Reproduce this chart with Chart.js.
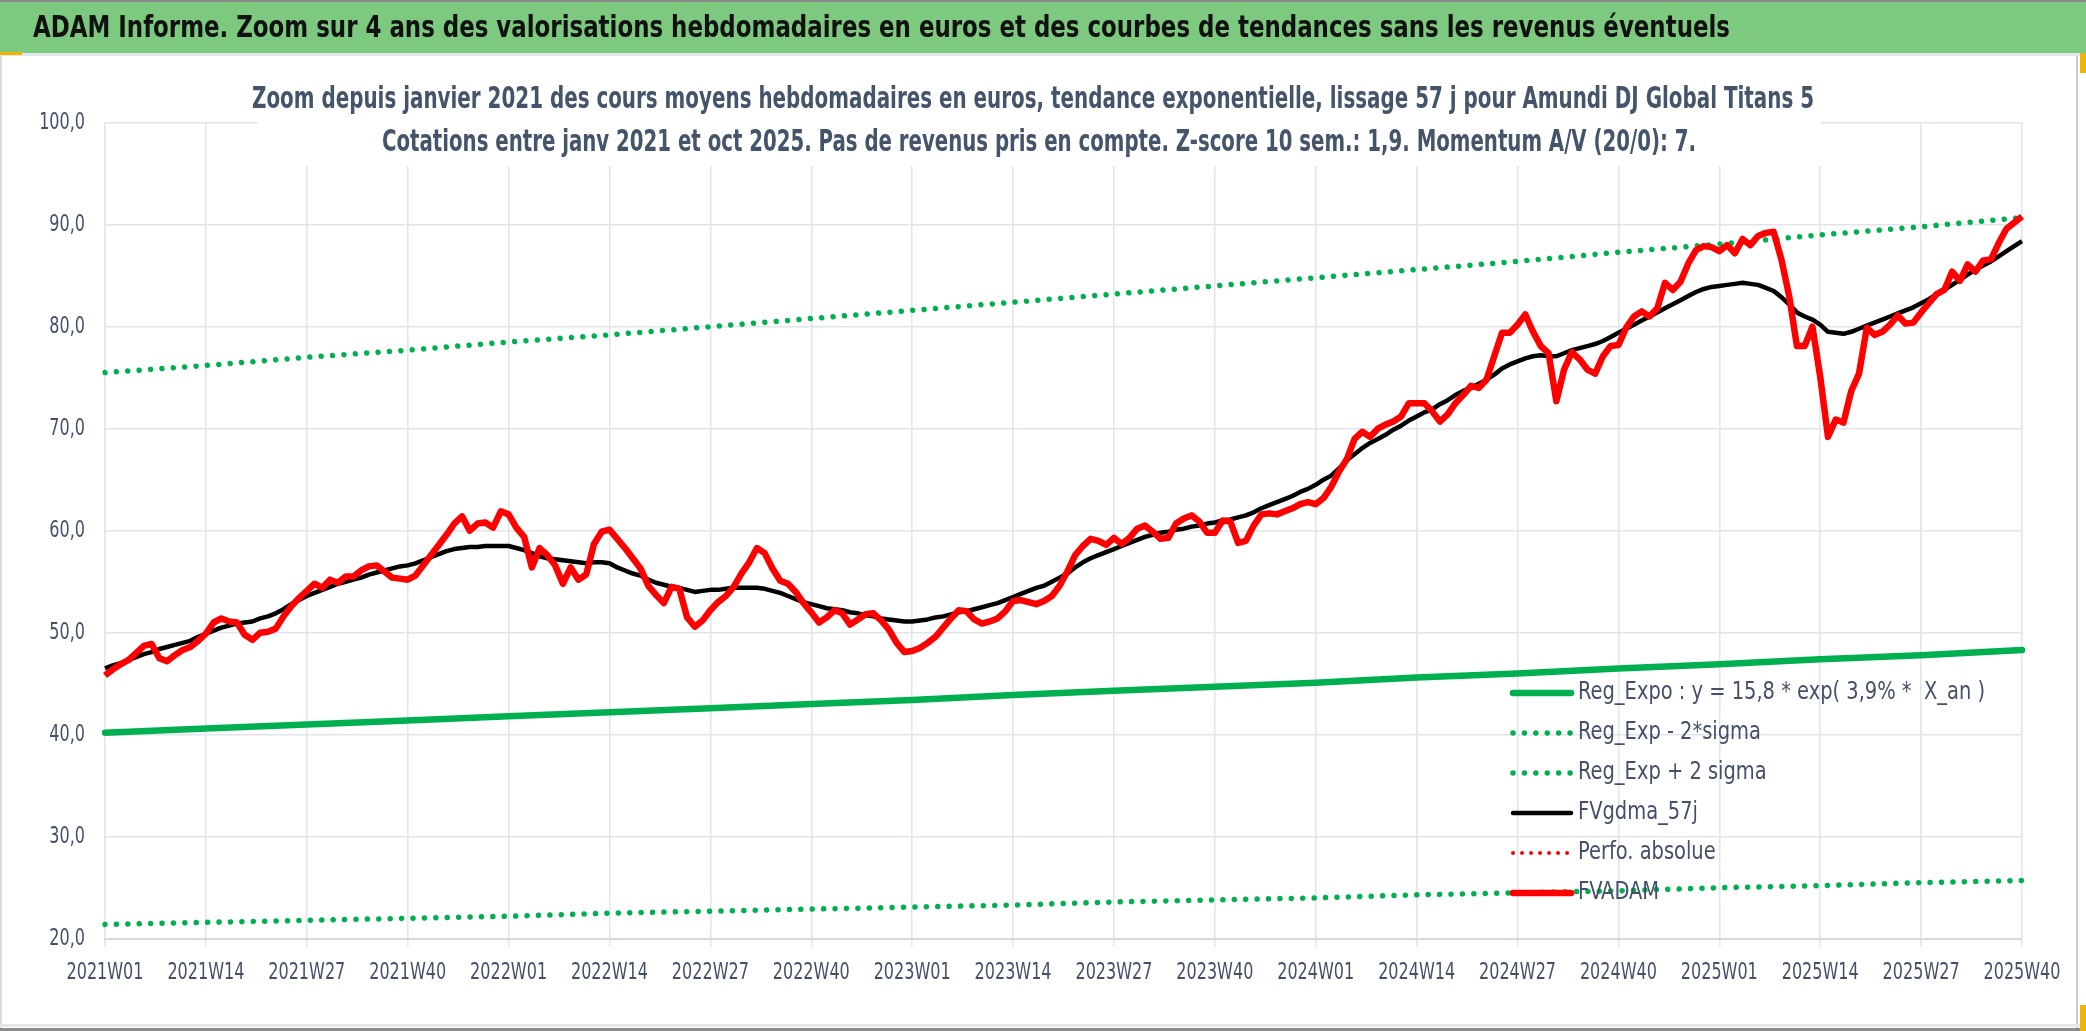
<!DOCTYPE html>
<html><head><meta charset="utf-8">
<script src="https://cdn.jsdelivr.net/npm/chart.js@4.4.1/dist/chart.umd.min.js"></script>
<style>html,body{margin:0;padding:0;background:#fff;overflow:hidden}canvas{display:block}</style>
</head><body>
<canvas id="c" width="2086" height="1031"></canvas>
<script>
const titleText = "ADAM Informe. Zoom sur 4 ans des valorisations hebdomadaires en euros et des courbes de tendances sans les revenus éventuels";
const subtitleLines = [
  "Zoom depuis janvier 2021 des cours moyens hebdomadaires en euros, tendance exponentielle, lissage 57 j pour Amundi DJ Global Titans 5",
  "Cotations entre janv 2021 et oct 2025. Pas de revenus pris en compte. Z-score 10 sem.: 1,9. Momentum A/V (20/0): 7."
];
const years = [2021, 2022, 2023, 2024, 2025];
const weeksPerYear = [52, 52, 52, 52, 40];
const tickLabels = ["2021W01","2021W14","2021W27","2021W40","2022W01","2022W14","2022W27","2022W40",
  "2023W01","2023W14","2023W27","2023W40","2024W01","2024W14","2024W27","2024W40",
  "2025W01","2025W14","2025W27","2025W40"];
const seriesNames = ["Reg_Expo : y = 15,8 * exp( 3,9% *  X_an )","Reg_Exp - 2*sigma","Reg_Exp + 2 sigma","FVgdma_57j","Perfo. absolue","FVADAM"];

// Weekly valuation (red)
const fvadam = [
 45.8,46.4,46.9,47.3,48.0,48.7,48.9,47.5,47.2,47.8,48.3,48.6,49.2,
 49.9,51.0,51.4,51.1,51.0,49.8,49.3,50.0,50.1,50.4,51.6,52.6,53.4,
 54.1,54.8,54.4,55.2,54.9,55.5,55.5,56.1,56.5,56.6,56.0,55.4,55.3,
 55.2,55.6,56.6,57.6,58.6,59.6,60.7,61.4,60.0,60.7,60.8,60.3,61.9,
 61.6,60.3,59.4,56.4,58.3,57.6,56.6,54.8,56.4,55.2,55.7,58.7,59.9,
 60.1,59.2,58.3,57.3,56.3,54.6,53.7,52.9,54.5,54.3,51.5,50.6,51.2,
 52.2,53.0,53.6,54.5,55.8,56.9,58.3,57.8,56.3,55.1,54.8,54.0,52.9,
 52.0,51.0,51.5,52.2,51.9,50.8,51.3,51.8,51.9,51.2,50.3,49.0,48.1,
 48.2,48.5,49.0,49.6,50.5,51.4,52.2,52.1,51.3,50.9,51.1,51.4,52.1,
 53.1,53.2,53.0,52.8,53.1,53.6,54.6,56.0,57.6,58.5,59.2,59.0,58.6,
 59.3,58.7,59.3,60.2,60.5,59.9,59.2,59.3,60.7,61.2,61.5,60.9,59.8,
 59.8,61.0,60.9,58.8,59.0,60.5,61.6,61.7,61.6,61.9,62.2,62.6,62.8,
 62.6,63.2,64.3,65.8,67.0,69.0,69.7,69.2,70.0,70.4,70.7,71.2,72.5,
 72.5,72.5,71.7,70.7,71.4,72.5,73.3,74.2,74.0,74.8,77.1,79.4,79.4,
 80.2,81.2,79.5,78.1,77.4,72.7,75.8,77.5,76.8,75.8,75.4,77.1,78.1,
 78.2,79.9,81.0,81.5,81.0,81.8,84.3,83.6,84.4,86.2,87.5,87.9,87.8,
 87.4,88.0,87.2,88.6,88.0,88.9,89.2,89.3,86.6,83.0,78.1,78.1,80.0,
 75.1,69.2,70.9,70.6,73.7,75.4,79.9,79.2,79.5,80.2,81.1,80.3,80.4,
 81.4,82.3,83.2,83.6,85.4,84.5,86.1,85.4,86.5,86.6,88.2,89.6,90.2,
 90.8
];
// 57-day smoothing (black)
const fvgdma = [
 46.5,46.8,47.0,47.3,47.6,47.9,48.1,48.4,48.6,48.8,49.0,49.2,49.6,
 49.9,50.2,50.5,50.7,50.9,51.0,51.1,51.4,51.6,51.9,52.3,52.8,53.2,
 53.6,53.9,54.2,54.5,54.8,55.0,55.2,55.4,55.7,55.9,56.1,56.3,56.5,
 56.6,56.8,57.1,57.4,57.7,58.0,58.2,58.3,58.4,58.4,58.5,58.5,58.5,
 58.5,58.3,58.1,57.8,57.5,57.3,57.2,57.1,57.0,56.9,56.8,56.9,56.9,
 56.8,56.4,56.1,55.8,55.6,55.2,54.9,54.7,54.5,54.4,54.2,54.0,54.1,
 54.2,54.2,54.3,54.4,54.4,54.4,54.4,54.3,54.1,53.9,53.6,53.3,53.0,
 52.8,52.6,52.4,52.3,52.2,52.0,51.9,51.7,51.6,51.4,51.3,51.2,51.1,
 51.1,51.2,51.3,51.5,51.6,51.8,52.0,52.1,52.3,52.5,52.7,52.9,53.2,
 53.5,53.8,54.1,54.4,54.6,55.0,55.4,55.8,56.4,56.9,57.3,57.6,57.9,
 58.2,58.5,58.8,59.1,59.4,59.6,59.8,59.9,60.1,60.2,60.4,60.5,60.7,
 60.8,61.0,61.1,61.3,61.5,61.8,62.2,62.5,62.8,63.1,63.4,63.8,64.1,
 64.5,65.0,65.4,66.1,66.9,67.5,68.1,68.6,69.0,69.4,69.9,70.3,70.8,
 71.2,71.6,71.9,72.4,72.8,73.3,73.7,74.0,74.4,74.8,75.3,75.9,76.3,
 76.6,76.9,77.1,77.2,77.1,77.1,77.4,77.7,77.9,78.1,78.3,78.6,79.0,
 79.4,79.8,80.2,80.6,81.0,81.4,81.8,82.2,82.6,83.0,83.4,83.7,83.9,
 84.0,84.1,84.2,84.3,84.2,84.1,83.8,83.5,82.9,82.2,81.4,81.0,80.7,
 80.2,79.5,79.4,79.3,79.5,79.8,80.1,80.4,80.7,81.0,81.3,81.6,81.9,
 82.3,82.7,83.2,83.6,84.1,84.6,85.1,85.6,86.0,86.4,86.9,87.4,87.9,
 88.4
];
// Trend curves read at each labelled week
const regExpo = [40.2,40.6,41.0,41.4,41.8,42.2,42.6,43.0,43.4,43.9,44.3,44.7,45.1,45.6,46.0,46.5,46.9,47.4,47.8,48.3];
const regLow  = [21.4,21.6,21.8,22.0,22.2,22.5,22.7,22.9,23.1,23.3,23.6,23.8,24.0,24.3,24.5,24.7,25.0,25.2,25.5,25.7];
const regHigh = [75.5,76.2,77.0,77.7,78.5,79.2,80.0,80.8,81.6,82.4,83.2,84.0,84.8,85.6,86.4,87.3,88.1,89.0,89.8,90.7];
const perfoAbs = [];

const weekLabels = [];
years.forEach((y, i) => { for (let w = 1; w <= weeksPerYear[i]; w++) weekLabels.push(y + 'W' + String(w).padStart(2, '0')); });
const atTicks = arr => arr.map((v, i) => ({ x: tickLabels[i], y: v }));

// choose the narrowest installed font among candidates
const mctx = document.createElement('canvas').getContext('2d');
function hasFont(name) {
  const s = '2021W01 abcdefghijklmWQ';
  return ['monospace', 'serif'].some(fb => {
    mctx.font = '40px ' + fb; const a = mctx.measureText(s).width;
    mctx.font = '40px "' + name + '", ' + fb; const b = mctx.measureText(s).width;
    return Math.abs(a - b) > 0.5;
  });
}
const candidates = ['Liberation Sans Narrow', 'Arial Narrow', 'DejaVu Sans Condensed', 'Open Sans Condensed', 'Roboto Condensed', 'Liberation Sans', 'Roboto'];
const chosen = candidates.find(hasFont) || 'Liberation Sans';
const FONT = '"' + chosen + '", sans-serif';
function sizeForCap(cap, weight) {
  mctx.font = (weight || '') + ' 100px ' + FONT;
  const r = mctx.measureText('H').actualBoundingBoxAscent / 100 || 0.72;
  return cap / r;
}
const tickPx = sizeForCap(16.2);
const legendPx = sizeForCap(17.7);
const subPx = sizeForCap(21.5, 'bold');
const titlePx = sizeForCap(21.5, 'bold');

const GREEN = '#00b050', RED = '#ff0000';
const TXT = '#44506a';

function fitText(ctx, text, x, y, width, font, color) {
  ctx.save();
  ctx.font = font; ctx.fillStyle = color; ctx.textBaseline = 'middle'; ctx.textAlign = 'left';
  const m = ctx.measureText(text).width;
  ctx.translate(x, y); ctx.scale(width / m, 1);
  ctx.fillText(text, 0, 0);
  ctx.restore();
}

const framePlugin = {
  id: 'frame',
  beforeDraw(chart) {
    const ctx = chart.ctx;
    ctx.save();
    ctx.fillStyle = '#ffffff'; ctx.fillRect(0, 0, 2086, 1031);
    ctx.fillStyle = '#7dc97f'; ctx.fillRect(0, 2, 2086, 51);
    ctx.fillStyle = '#8a8a8a'; ctx.fillRect(0, 0, 2086, 2);
    ctx.fillStyle = '#e3e6eb'; ctx.fillRect(0, 53, 2086, 3);
    ctx.fillStyle = '#f0b400'; ctx.fillRect(0, 52, 22, 3);
    ctx.fillStyle = '#d9dce1'; ctx.fillRect(0, 56, 2, 975);
    ctx.fillStyle = '#c9ccd1'; ctx.fillRect(2076, 56, 2, 975);
    ctx.fillStyle = '#e3e6eb'; ctx.fillRect(0, 1024, 2086, 3);
    ctx.fillStyle = '#8a8a8a'; ctx.fillRect(0, 1028, 2086, 3);
    ctx.fillStyle = '#f0b400'; ctx.fillRect(2080, 53, 6, 20); ctx.fillRect(2080, 1005, 6, 26);
    ctx.restore();
    fitText(ctx, titleText, 33, 29, 1697, 'bold ' + titlePx + 'px ' + FONT, '#111111');
  },
  afterDraw(chart) {
    const ctx = chart.ctx;
    // axis labels, positioned by the library's scales, condensed like the original
    const xs = chart.scales.x, ys = chart.scales.y;
    ctx.save();
    ctx.font = tickPx + 'px ' + FONT;
    ctx.fillStyle = TXT; ctx.textBaseline = 'middle';
    const sx = 77 / ctx.measureText('2021W01').width;
    ctx.textAlign = 'center';
    xs.ticks.forEach((t, i) => {
      if (t.label == null) return;
      const px = xs.getPixelForTick(i);
      ctx.save(); ctx.translate(px, 973); ctx.scale(sx, 1); ctx.fillText(t.label, 0, 0); ctx.restore();
    });
    ctx.textAlign = 'right';
    ys.ticks.forEach((t, i) => {
      const py = ys.getPixelForTick(i);
      ctx.save(); ctx.translate(85, py + 1); ctx.scale(sx, 1); ctx.fillText(t.label, 0, 0); ctx.restore();
    });
    ctx.restore();
    ctx.save();
    ctx.fillStyle = '#ffffff'; ctx.fillRect(258, 64, 1563, 102);
    ctx.restore();
    fitText(ctx, subtitleLines[0], 252, 100, 1562, 'bold ' + subPx + 'px ' + FONT, '#44546a');
    fitText(ctx, subtitleLines[1], 382, 143, 1314, 'bold ' + subPx + 'px ' + FONT, '#44546a');
  }
};

const legendPlugin = {
  id: 'inLegend',
  afterDatasetsDraw(chart) {
    const ctx = chart.ctx;
    const ds = chart.data.datasets;
    ctx.save();
    ctx.font = legendPx + 'px ' + FONT;
    const sx = 407 / ctx.measureText(ds[0].label).width;
    ds.forEach((d, i) => {
      const y = 693 + i * 40;
      ctx.save();
      ctx.strokeStyle = d.borderColor;
      ctx.lineWidth = d.borderWidth;
      ctx.lineCap = 'round';
      ctx.setLineDash(d.borderDash || []);
      ctx.beginPath(); ctx.moveTo(1513, y); ctx.lineTo(1571, y); ctx.stroke();
      ctx.restore();
      ctx.save();
      ctx.fillStyle = TXT; ctx.textBaseline = 'middle'; ctx.textAlign = 'left';
      ctx.font = legendPx + 'px ' + FONT;
      ctx.translate(1578, y); ctx.scale(sx, 1);
      ctx.fillText(d.label, 0, 0);
      ctx.restore();
    });
    ctx.restore();
  }
};

const dot = [0.01, 11.4];
new Chart(document.getElementById('c'), {
  type: 'line',
  data: {
    labels: weekLabels,
    datasets: [
      { label: seriesNames[0], data: atTicks(regExpo), borderColor: GREEN, borderWidth: 6.5, order: 5, borderCapStyle: 'round' },
      { label: seriesNames[1], data: atTicks(regLow), borderColor: GREEN, borderWidth: 5.5, borderDash: dot, borderCapStyle: 'round', order: 4 },
      { label: seriesNames[2], data: atTicks(regHigh), borderColor: GREEN, borderWidth: 5.5, borderDash: dot, borderCapStyle: 'round', order: 3 },
      { label: seriesNames[3], data: fvgdma, borderColor: '#000000', borderWidth: 4.5, order: 1 },
      { label: seriesNames[4], data: perfoAbs, borderColor: RED, borderWidth: 4, borderDash: [0.01, 9], borderCapStyle: 'round', order: 2 },
      { label: seriesNames[5], data: fvadam, borderColor: RED, borderWidth: 6.5, order: 0 }
    ]
  },
  options: {
    responsive: false, animation: false, devicePixelRatio: 1,
    layout: { padding: { left: 0, right: 64, top: 122.7, bottom: 22.3 } },
    plugins: { legend: { display: false }, title: { display: false }, tooltip: { enabled: false } },
    elements: { point: { radius: 0, hoverRadius: 0 }, line: { tension: 0, borderJoinStyle: 'round', fill: false } },
    scales: {
      x: {
        type: 'category',
        grid: { color: '#e1e4ea', lineWidth: 1.5, tickLength: 8, drawTicks: true },
        border: { color: '#d5d9df', width: 2 },
        ticks: {
          autoSkip: false, maxRotation: 0, minRotation: 0, padding: 14, color: 'rgba(0,0,0,0)',
          font: { family: FONT, size: 20 },
          callback: function (v) { const l = this.getLabelForValue(v); return tickLabels.includes(l) ? l : null; }
        },
        afterFit(s) { s.height = 70; }
      },
      y: {
        min: 20, max: 100,
        grid: { color: '#e1e4ea', lineWidth: 1.5, drawTicks: false },
        border: { display: false },
        ticks: { stepSize: 10, padding: 20, color: 'rgba(0,0,0,0)', font: { family: FONT, size: 20 },
          callback: v => v.toFixed(1).replace('.', ',') },
        afterFit(s) { s.width = 105; }
      }
    }
  },
  plugins: [framePlugin, legendPlugin]
});
</script>
</body></html>
